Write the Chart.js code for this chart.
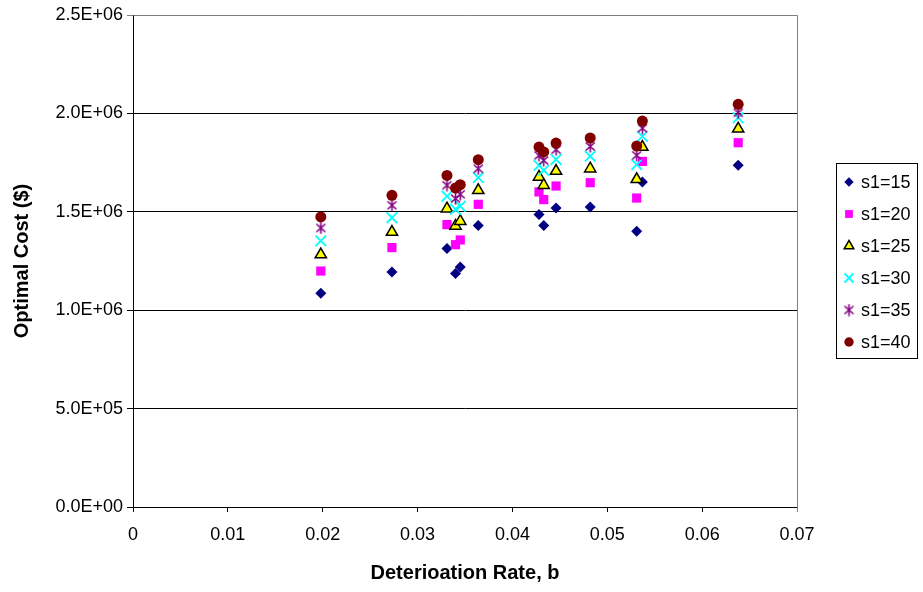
<!DOCTYPE html>
<html>
<head>
<meta charset="utf-8">
<script src="https://cdn.jsdelivr.net/npm/chart.js@4.4.0/dist/chart.umd.min.js"></script>
<style>
  html, body { margin: 0; padding: 0; background: #fff; }
  #wrap { width: 923px; height: 592px; }
</style>
</head>
<body>
<div id="wrap"><canvas id="chart" width="923" height="592"></canvas></div>
<script>
// Chart Data

var rates = [0.0198, 0.0273, 0.0331, 0.0340, 0.0345, 0.0364, 0.0428, 0.0433, 0.0446, 0.0482, 0.0531, 0.0537, 0.0638];

var cost15 = [1.086e6, 1.194e6, 1.313e6, 1.186e6, 1.220e6, 1.431e6, 1.486e6, 1.431e6, 1.519e6, 1.524e6, 1.401e6, 1.651e6, 1.736e6];
var cost20 = [1.199e6, 1.318e6, 1.435e6, 1.333e6, 1.357e6, 1.538e6, 1.601e6, 1.562e6, 1.631e6, 1.648e6, 1.570e6, 1.756e6, 1.851e6];
var cost25 = [1.283e6, 1.397e6, 1.516e6, 1.428e6, 1.452e6, 1.609e6, 1.677e6, 1.635e6, 1.707e6, 1.719e6, 1.665e6, 1.829e6, 1.922e6];
var cost30 = [1.352e6, 1.470e6, 1.579e6, 1.513e6, 1.528e6, 1.674e6, 1.736e6, 1.711e6, 1.766e6, 1.782e6, 1.740e6, 1.883e6, 1.978e6];
var cost35 = [1.418e6, 1.533e6, 1.635e6, 1.567e6, 1.589e6, 1.719e6, 1.787e6, 1.761e6, 1.816e6, 1.832e6, 1.787e6, 1.925e6, 2.003e6];
var cost40 = [1.474e6, 1.584e6, 1.685e6, 1.621e6, 1.638e6, 1.765e6, 1.829e6, 1.804e6, 1.849e6, 1.875e6, 1.834e6, 1.961e6, 2.046e6];

var seriesLabels = ["s1=15", "s1=20", "s1=25", "s1=30", "s1=35", "s1=40"];
var seriesValues = [cost15, cost20, cost25, cost30, cost35, cost40];

var yTicks = [0, 5e5, 1e6, 1.5e6, 2e6, 2.5e6];
var xTicks = [0, 0.01, 0.02, 0.03, 0.04, 0.05, 0.06, 0.07];

// excel style asterisk marker (x with a vertical bar)
function asterisk(color){
    var cv = document.createElement('canvas');
    cv.width = 13; cv.height = 13;
    var g = cv.getContext('2d');
    g.strokeStyle = color;
    g.lineWidth = 1.6;
    g.beginPath();
    g.moveTo(2, 2.5); g.lineTo(11, 10.5);
    g.moveTo(11, 2.5); g.lineTo(2, 10.5);
    g.moveTo(6.5, 0.5); g.lineTo(6.5, 12.5);
    g.stroke();
    return cv;
}

var styles = [
    { pointStyle: 'rectRot', backgroundColor: '#000080', borderColor: '#000080', borderWidth: 0, pointRadius: 5.5 },
    { pointStyle: 'rect', backgroundColor: '#FF00FF', borderColor: '#FF00FF', borderWidth: 0, pointRadius: 6.5 },
    { pointStyle: 'triangle', backgroundColor: '#FFFF00', borderColor: '#000000', borderWidth: 1.5, pointRadius: 6.5 },
    { pointStyle: 'crossRot', backgroundColor: '#00FFFF', borderColor: '#00FFFF', borderWidth: 1.8, pointRadius: 7.5 },
    { pointStyle: asterisk('#800080'), backgroundColor: '#800080', borderColor: '#800080', borderWidth: 0, pointRadius: 6 },
    { pointStyle: 'circle', backgroundColor: '#800000', borderColor: '#800000', borderWidth: 0, pointRadius: 5.5 }
];

var datasets = seriesValues.map(function(vals, i){
    var st = styles[i];
    return {
        label: seriesLabels[i],
        data: vals.map(function(v, k){ return { x: rates[k], y: v }; }),
        showLine: false,
        pointStyle: st.pointStyle,
        pointRadius: st.pointRadius,
        pointHoverRadius: st.pointRadius,
        backgroundColor: st.backgroundColor,
        borderColor: st.borderColor,
        borderWidth: st.borderWidth,
        pointBorderWidth: st.borderWidth,
        order: seriesValues.length - i
    };
});

function sciLabel(v){
    if (v === 0) return '0.0E+00';
    var e = Math.floor(Math.log10(v) + 1e-9);
    var m = v / Math.pow(10, e);
    return m.toFixed(1) + 'E+' + (e < 10 ? '0' + e : e);
}

var FONT = '"Liberation Sans", Arial, sans-serif';
Chart.defaults.font.family = FONT;
Chart.defaults.color = '#000';

// Plugins

var plotFrame = {
    id: 'plotFrame',
    beforeDatasetsDraw: function(chart){
        var a = chart.chartArea, ctx = chart.ctx;
        ctx.save();
        ctx.strokeStyle = '#808080';
        ctx.lineWidth = 1;
        ctx.beginPath();
        ctx.moveTo(Math.round(a.left) + 0.5, Math.round(a.top) + 0.5);
        ctx.lineTo(Math.round(a.right) + 0.5, Math.round(a.top) + 0.5);
        ctx.lineTo(Math.round(a.right) + 0.5, Math.round(a.bottom) + 5);
        ctx.stroke();
        ctx.restore();
    }
};

var boxLegend = {
    id: 'boxLegend',
    afterDraw: function(chart){
        var ctx = chart.ctx;
        ctx.save();
        ctx.strokeStyle = '#000';
        ctx.lineWidth = 1;
        ctx.strokeRect(836.5, 163.5, 81, 195);
        ctx.font = '18px ' + FONT;
        ctx.textBaseline = 'middle';
        chart.data.datasets.forEach(function(ds, i){
            var y = 182 + i * 32;
            ctx.fillStyle = ds.backgroundColor;
            ctx.strokeStyle = ds.borderColor;
            ctx.lineWidth = ds.borderWidth;
            Chart.helpers.drawPoint(ctx, {
                pointStyle: ds.pointStyle,
                radius: ds.pointRadius * 0.85,
                borderWidth: ds.borderWidth,
                rotation: 0
            }, 849, y);
            ctx.fillStyle = '#000';
            ctx.fillText(ds.label, 861, y + 1);
        });
        ctx.restore();
    }
};

// Generate Chart

var scatter = new Chart(document.getElementById('chart').getContext('2d'), {
    type: 'scatter',
    data: { datasets: datasets },
    plugins: [plotFrame, boxLegend],
    options: {
        responsive: false,
        animation: false,
        devicePixelRatio: 1,
        events: [],
        layout: { padding: { top: 15, right: 126, left: 0, bottom: 0 } },
        plugins: {
            legend: { display: false },
            tooltip: { enabled: false }
        },
        scales: {
            x: {
                type: 'linear',
                min: xTicks[0],
                max: xTicks[xTicks.length - 1],
                afterBuildTicks: function(s){ s.ticks = xTicks.map(function(v){ return { value: v }; }); },
                ticks: {
                    callback: function(v){ return String(+v.toFixed(2)); },
                    font: { size: 18 },
                    color: '#000',
                    padding: 12,
                    maxRotation: 0,
                    autoSkip: false
                },
                grid: { drawOnChartArea: false, color: '#000', tickLength: 5 },
                border: { color: '#000', width: 1 },
                title: {
                    display: true,
                    text: 'Deterioation Rate, b',
                    font: { size: 20, weight: 'bold' },
                    color: '#000',
                    padding: { top: 0, bottom: 7 }
                },
                afterFit: function(s){ s.height = 85; }
            },
            y: {
                min: yTicks[0],
                max: yTicks[yTicks.length - 1],
                afterBuildTicks: function(s){ s.ticks = yTicks.map(function(v){ return { value: v }; }); },
                ticks: {
                    callback: sciLabel,
                    font: { size: 18 },
                    color: '#000',
                    padding: 4
                },
                grid: {
                    color: function(c){ return (c.tick && c.tick.value === yTicks[yTicks.length - 1]) ? '#808080' : '#000'; },
                    tickLength: 6,
                    lineWidth: 1
                },
                border: { color: '#000', width: 1 },
                title: {
                    display: true,
                    text: 'Optimal Cost ($)',
                    font: { size: 20, weight: 'bold' },
                    color: '#000',
                    padding: { top: 10, bottom: 0 }
                },
                afterFit: function(s){ s.width = 133; }
            }
        }
    }
});
</script>
</body>
</html>
